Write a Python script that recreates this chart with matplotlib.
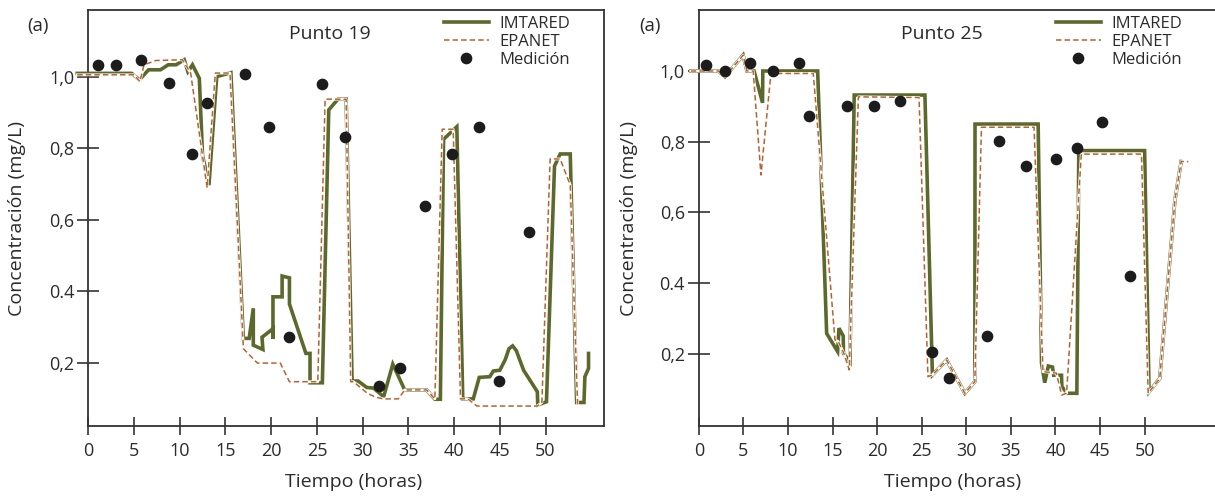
import matplotlib
matplotlib.use("Agg")
import matplotlib.pyplot as plt

plt.rcParams['font.family'] = ['Open Sans', 'DejaVu Sans']

# ---------------- data: Punto 19 ----------------
t19_imt = [-1.2, 4.75, 5.6, 6.6, 7.9, 8.75, 9.6, 10.5, 10.9, 11.4, 12.15, 12.5, 13.2, 14.05,
           15.6, 16.96, 17.6, 18.05, 18.05, 19.1, 19.0, 20.2, 20.2, 20.2, 21.2, 21.2, 22.0,
           22.0, 23.8, 24.25, 24.25, 25.6, 26.3, 27.3, 28.2, 28.85, 29.5, 30.45, 31.2, 32.3,
           33.3, 34.6, 37.0, 37.9, 38.5, 38.85, 40.3, 40.95, 42.1, 42.75, 43.9, 44.3, 45.0,
           45.6, 46.0, 46.4, 46.8, 47.6, 49.1, 49.15, 50.1, 50.98, 51.6, 52.7, 53.4, 54.2,
           54.3, 54.7, 54.7]
c19_imt = [1.009, 1.009, 0.991, 1.019, 1.019, 1.033, 1.033, 1.047, 1.014, 1.033, 0.995, 0.78,
           0.697, 1.0, 1.011, 0.269, 0.269, 0.353, 0.25, 0.238, 0.272, 0.296, 0.268, 0.385,
           0.385, 0.443, 0.438, 0.365, 0.227, 0.227, 0.145, 0.145, 0.907, 0.937, 0.937, 0.15,
           0.15, 0.132, 0.13, 0.106, 0.197, 0.125, 0.125, 0.099, 0.099, 0.825, 0.86, 0.10,
           0.10, 0.16, 0.162, 0.178, 0.18, 0.21, 0.24, 0.248, 0.235, 0.18, 0.12, 0.083, 0.092,
           0.75, 0.784, 0.784, 0.09, 0.09, 0.162, 0.185, 0.227]

t19_epa = [-1.2, 5.0, 5.66, 6.1, 7.4, 10.3, 11.2, 13.0, 13.9, 15.5, 16.97, 18.5, 21.0, 22.0,
           25.1, 25.9, 28.2, 28.7, 29.0, 30.5, 31.4, 32.3, 33.9, 34.6, 37.0, 37.9, 38.7,
           39.9, 40.7, 41.5, 42.5, 49.1, 49.6, 50.5, 51.6, 52.7, 53.5]
c19_epa = [1.005, 1.005, 0.986, 1.033, 1.045, 1.047, 1.01, 0.69, 1.01, 1.01, 0.24, 0.2, 0.2,
           0.148, 0.148, 0.937, 0.937, 0.148, 0.148, 0.116, 0.105, 0.1, 0.1, 0.125, 0.125,
           0.1, 0.853, 0.853, 0.1, 0.1, 0.08, 0.08, 0.09, 0.77, 0.77, 0.697, 0.083]

t19_med = [1.12, 3.04, 5.8, 8.86, 11.37, 13.03, 17.16, 19.8, 21.9, 25.6, 28.1, 31.8, 34.1,
           36.85, 39.8, 42.7, 44.9, 48.2]
c19_med = [1.033, 1.033, 1.045, 0.982, 0.784, 0.927, 1.007, 0.86, 0.272, 0.979, 0.832, 0.137,
           0.185, 0.639, 0.784, 0.86, 0.151, 0.567]

# ---------------- data: Punto 25 ----------------
t25_imt = [-0.9, 2.19, 2.94, 4.97, 5.4, 6.2, 7.15, 7.18, 13.33, 14.34, 15.57, 15.72, 16.2,
           16.22, 16.95, 17.43, 25.36, 26.2, 27.8, 29.84, 30.96, 30.98, 38.06, 38.44, 38.8,
           39.2, 39.67, 39.8, 40.68, 40.72, 41.3, 42.4, 42.62, 50.0, 50.5, 51.7, 53.4, 54.1]
c25_imt = [1.0, 1.0, 0.984, 1.045, 1.0, 1.0, 0.91, 1.0, 1.0, 0.258, 0.207, 0.273, 0.251,
           0.202, 0.178, 0.932, 0.932, 0.141, 0.183, 0.089, 0.122, 0.85, 0.85, 0.174, 0.119,
           0.166, 0.163, 0.14, 0.14, 0.108, 0.089, 0.089, 0.775, 0.775, 0.093, 0.131, 0.635,
           0.744]

t25_epa = [-0.9, 2.19, 2.94, 4.97, 5.4, 6.1, 6.97, 8.09, 12.84, 15.27, 15.65, 16.3, 16.87,
           17.9, 24.7, 25.7, 26.2, 27.8, 29.84, 30.96, 31.7, 37.6, 38.6, 40.1, 40.7, 41.25,
           42.9, 49.65, 50.4, 51.7, 53.4, 54.1, 54.9]
c25_epa = [1.0, 1.0, 0.984, 1.045, 1.0, 1.0, 0.706, 0.993, 0.993, 0.24, 0.235, 0.2, 0.155,
           0.927, 0.925, 0.136, 0.141, 0.183, 0.089, 0.122, 0.841, 0.841, 0.15, 0.146, 0.084,
           0.089, 0.765, 0.765, 0.089, 0.131, 0.635, 0.744, 0.744]

t25_med = [0.77, 2.94, 5.74, 8.35, 11.23, 12.35, 16.65, 19.68, 22.55, 26.2, 28.05, 32.35,
           33.66, 36.65, 40.05, 42.4, 45.17, 48.4]
c25_med = [1.017, 1.0, 1.022, 1.0, 1.022, 0.873, 0.901, 0.901, 0.915, 0.207, 0.133, 0.251,
           0.802, 0.731, 0.752, 0.783, 0.857, 0.42]

xticks = [0, 5, 10, 15, 20, 25, 30, 35, 40, 45, 50]
yticks = [0.2, 0.4, 0.6, 0.8, 1.0]
ytick_labels = ["0,2", "0.4", "0,6", "0,8", "1,0"]
titles = ["Punto 19", "Punto 25"]
series_labels = ["IMTARED", "EPANET", "Medición"]

GREEN = "#5b6a2c"
ORANGE = "#b9612f"
DOT = "#1c1c1c"
AXC = "#333333"
TXT = "#2b2b2b"

W, H = 1215, 496
fig = plt.figure(figsize=(W / 100, H / 100), dpi=100)

panels = [
    dict(left=88.2, xlim=(0, 56.39), ylim=(0.0243, 1.186), title=titles[0], tx=0.469,
         imt=(t19_imt, c19_imt), epa=(t19_epa, c19_epa), med=(t19_med, c19_med),
         alabel=37.7, ylab=-0.121, xlabx=0.515, legx=0.689, right_spine=True),
    dict(left=698.8, xlim=(0, 57.85), ylim=(-0.0035, 1.1724), title=titles[1], tx=0.4715,
         imt=(t25_imt, c25_imt), epa=(t25_epa, c25_epa), med=(t25_med, c25_med),
         alabel=650, ylab=-0.118, xlabx=0.492, legx=0.6925, right_spine=False),
]

for p in panels:
    ax = fig.add_axes([p['left'] / W, 70 / H, 515.8 / W, 416 / H])
    ax.set_xlim(*p['xlim'])
    ax.set_ylim(*p['ylim'])
    for s in ax.spines.values():
        s.set_color(AXC)
        s.set_linewidth(1.3)
    if not p['right_spine']:
        ax.spines['right'].set_visible(False)

    ax.plot(*p['imt'], color=GREEN, lw=2.6, solid_joinstyle='miter', zorder=3,
            clip_on=False, label=series_labels[0])
    ax.plot(*p['epa'], color='white', lw=2.0, zorder=4, clip_on=False)
    ax.plot(*p['epa'], color=ORANGE, lw=1.1, dashes=(3.6, 2.0), zorder=5,
            clip_on=False, label=series_labels[1])
    ax.plot(*p['med'], 'o', color=DOT, ms=7.4, zorder=6, label=series_labels[2])

    ax.set_xticks(xticks)
    ax.set_xticklabels([str(v) for v in xticks])
    ax.set_yticks(yticks)
    ax.set_yticklabels(ytick_labels)
    ax.tick_params(axis='x', direction='inout', length=13, width=1.2, color=AXC,
                   labelsize=13, labelcolor=TXT, pad=5)
    ax.tick_params(axis='y', direction='inout', length=16, width=1.2, color=AXC,
                   labelsize=13, labelcolor=TXT, pad=2)

    ax.set_ylabel("Concentración (mg/L)", fontsize=14, color=TXT)
    ax.yaxis.set_label_coords(p['ylab'], 0.5)
    ax.set_xlabel("Tiempo (horas)", fontsize=14, color=TXT)
    ax.xaxis.set_label_coords(p['xlabx'], -0.113)

    ax.text(p['tx'], 0.942, p['title'], transform=ax.transAxes, ha='center',
            va='center', fontsize=14, color=TXT)
    fig.text(p['alabel'] / W, 1 - 26 / H, "(a)", ha='center', va='center',
             fontsize=13.5, color=TXT)

    ax.legend(loc='upper left', bbox_to_anchor=(p['legx'], 0.985), frameon=False,
              fontsize=12, handlelength=2.7, handletextpad=0.65, borderpad=0,
              borderaxespad=0, labelspacing=0.12, labelcolor=TXT)

fig.savefig("out.png", dpi=100)
